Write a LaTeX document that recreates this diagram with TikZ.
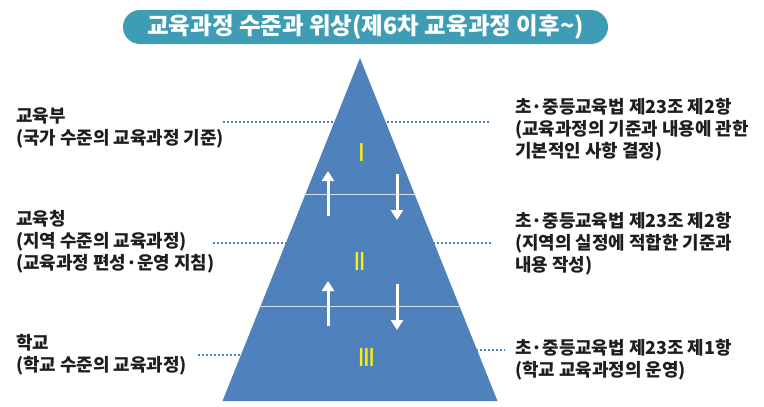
\documentclass[tikz,border=0pt]{standalone}
\usepackage{fontspec}
\setmainfont{Noto Sans CJK KR}
\newfontfamily\numfont{Liberation Sans}
\usetikzlibrary{calc,arrows.meta}
\definecolor{pyr}{RGB}{79,129,189}
\definecolor{ttl}{RGB}{62,157,181}
\definecolor{txt}{RGB}{30,30,30}
\tikzset{
  lbl/.style={anchor=west, align=left, inner sep=0pt, text=txt, font=\fontsize{17.9}{22}\selectfont\bfseries},
  dots/.style={pyr, line width=1.8pt, dash pattern=on 1.8pt off 2.2pt},
  num/.style={text=yellow, inner sep=0pt, font=\fontsize{26}{26}\selectfont\numfont},
  flow/.style={white, line width=3pt, -{Triangle[width=12pt,length=10pt]}},
  sep/.style={white!75!pyr, line width=1.2pt},
}
\begin{document}
\begin{tikzpicture}[x=1pt, y=-1pt]
  \useasboundingbox (0,0) rectangle (764,407);
  \node[fill=ttl, rounded corners=17pt, minimum width=485pt, minimum height=34pt, text=white,
    font=\fontsize{23.5}{23.5}\selectfont\bfseries] (title) at (365.5,27) {교육과정 수준과 위상(제6차 교육과정 이후\textasciitilde)};

  \node[lbl] (moe) at (16,128) {교육부\\(국가 수준의 교육과정 기준)};
  \node[lbl] (office) at (16,242) {교육청\\(지역 수준의 교육과정)\\(교육과정 편성·운영 지침)};
  \node[lbl] (school) at (16,355) {학교\\(학교 수준의 교육과정)};
  \node[lbl] (law1) at (515,130) {초·중등교육법 제23조 제2항\\(교육과정의 기준과 내용에 관한\\기본적인 사항 결정)};
  \node[lbl] (law2) at (515,244) {초·중등교육법 제23조 제2항\\(지역의 실정에 적합한 기준과\\내용 작성)};
  \node[lbl] (law3) at (515,360) {초·중등교육법 제23조 제1항\\(학교 교육과정의 운영)};

  \coordinate (d1l) at (223,122);
  \coordinate (d1r) at (490,122);
  \coordinate (d2l) at (213,243);
  \coordinate (d2r) at (492,243);
  \coordinate (d3l) at (198,355);
  \coordinate (d3m) at (300,355);
  \coordinate (d3n) at (420,350);
  \coordinate (d3r) at (505,350);
  \draw[dots] (d1l) -- (d1r);
  \draw[dots] (d2l) -- (d2r);
  \draw[dots] (d3l) -- (d3m);
  \draw[dots] (d3n) -- (d3r);

  \coordinate (apex) at (360,58);
  \coordinate (bl) at (222.5,401);
  \coordinate (br) at (497.5,401);
  \fill[pyr] (apex) -- (br) -- (bl) -- cycle;
  \draw[sep] ($(apex)!0.397!(bl)$) -- ($(apex)!0.397!(br)$);
  \draw[sep] ($(apex)!0.725!(bl)$) -- ($(apex)!0.725!(br)$);

  \node[num] (lv1) at (361.5,153) {I};
  \node[num] (lv2) at (359.5,261.5) {I\kern-2pt I};
  \node[num] (lv3) at (366.5,358) {I\kern-2pt I\kern-2pt I};

  \foreach \dy in {0,110} {
    \draw[flow] (328,216+\dy) -- (328,171+\dy);
    \draw[flow] (397,174+\dy) -- (397,220+\dy);
  }
\end{tikzpicture}
\end{document}
